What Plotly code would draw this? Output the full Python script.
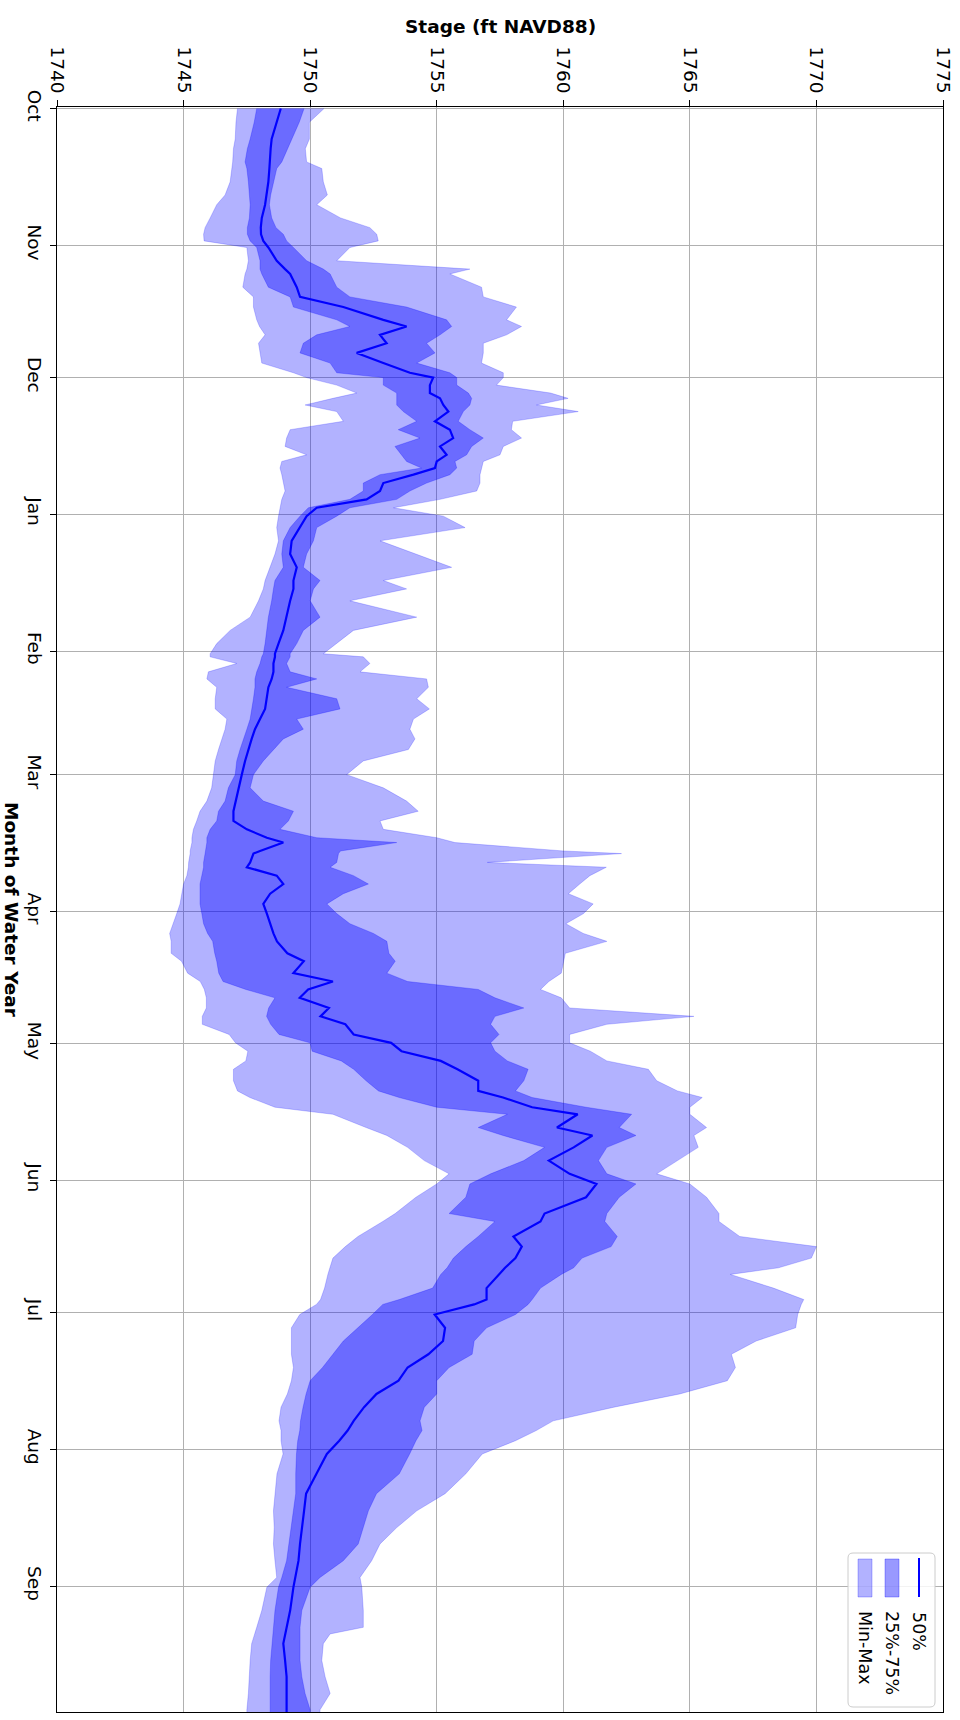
import plotly.graph_objects as go

# ---------------- data ----------------
days = [0.0, 3.1, 6.9, 9.1, 12.1, 13.6, 16.6, 19.6, 21.8, 24.8, 27.0, 28.5, 30.0, 31.5, 34.5,
        36.4, 37.5, 40.5, 42.7, 45.0, 47.9, 49.4, 51.3, 53.2, 55.4, 57.7, 59.9, 61.0, 62.7,
        64.5, 65.7, 67.2, 68.7, 70.9, 72.8, 74.7, 76.6, 78.5, 80.0, 81.5, 83.0, 84.9, 86.7,
        88.6, 90.5, 92.4, 95.0, 98.0, 101.0, 104.0, 107.0, 108.9, 111.6, 115.3, 118.3, 121.3,
        123.6, 124.3, 125.8, 127.7, 129.3, 131.2, 133.8, 136.1, 138.4, 140.7, 142.9, 145.3,
        147.9, 151.0, 154.0, 157.0, 159.3, 161.5, 163.4, 165.3, 166.4, 168.3, 168.9, 170.9, 172.0,
        173.9, 175.8, 178.0, 180.3, 182.5, 184.8, 187.0, 188.8, 191.5, 193.3, 196.0, 197.9,
        199.7, 201.6, 203.9, 205.8, 207.6, 209.9, 211.8, 213.7, 215.9, 217.8, 220.4, 222.7,
        224.2, 226.4, 228.0, 231.0, 232.8, 235.5, 238.5, 241.5, 243.8, 246.8, 250.5, 252.3,
        255.7, 258.0, 260.6, 262.8, 264.3, 267.4, 270.0, 271.1, 273.4, 276.4, 279.4, 282.4,
        285.4, 288.4, 291.4, 294.4, 297.5, 299.7, 302.0, 305.0, 309.5, 314.0, 317.9, 321.7,
        325.4, 329.2, 333.0, 335.2, 340.5, 344.3, 345.8, 348.0, 351.8, 355.5, 359.3, 363.0, 364.0]

stage_min = [1747.13, 1747.07, 1747.04, 1746.97, 1746.94, 1746.90, 1746.84, 1746.64, 1746.31, 1746.05,
             1745.85, 1745.79, 1745.81, 1747.50, 1747.56, 1747.50, 1747.43, 1747.34, 1747.76, 1747.76,
             1747.89, 1748.00, 1748.22, 1747.96, 1748.02, 1748.09, 1749.34, 1749.86, 1751.05, 1751.84,
             1750.90, 1749.80, 1751.05, 1751.31, 1749.21, 1749.07, 1749.01, 1749.86, 1748.88, 1748.81,
             1748.88, 1748.94, 1749.01, 1748.88, 1748.81, 1748.75, 1748.68, 1748.75, 1748.61, 1748.42,
             1748.22, 1748.15, 1747.96, 1747.63, 1746.84, 1746.31, 1746.05, 1746.05, 1747.10, 1745.98,
             1745.92, 1746.31, 1746.25, 1746.25, 1746.71, 1746.64, 1746.51, 1746.38, 1746.25, 1746.18,
             1746.11, 1745.92, 1745.65, 1745.52, 1745.39, 1745.33, 1745.33, 1745.26, 1745.26, 1745.20,
             1745.19,
             1745.13, 1745.00, 1744.93, 1744.86, 1744.73, 1744.60, 1744.45, 1744.51, 1744.51, 1744.92,
             1745.16, 1745.66, 1745.82, 1745.90, 1745.90, 1745.74, 1745.74, 1746.80, 1747.05, 1747.54,
             1747.46, 1746.97, 1746.97, 1747.13, 1747.62, 1748.61, 1750.90, 1752.21, 1753.03, 1753.85,
             1754.51, 1755.49, 1755.00, 1754.18, 1753.36, 1752.87, 1751.89, 1751.39, 1750.90, 1750.78,
             1750.70, 1750.57, 1750.41, 1750.25, 1749.59, 1749.26, 1749.26, 1749.26, 1749.34, 1749.26,
             1749.10, 1748.85, 1748.77, 1748.85, 1748.85, 1748.93, 1748.69, 1748.61, 1748.55, 1748.58,
             1748.55, 1748.61, 1748.68, 1748.29, 1748.09, 1747.89, 1747.82, 1747.69, 1747.63, 1747.60,
             1747.56, 1747.50, 1747.50]

stage_p25 = [1747.89, 1747.79, 1747.63, 1747.52, 1747.43, 1747.50, 1747.56, 1747.60, 1747.63, 1747.60,
             1747.52, 1747.52, 1747.63, 1747.89, 1748.02, 1748.02, 1748.09, 1748.35, 1749.21, 1749.34,
             1751.05, 1751.57, 1750.26, 1749.73, 1749.60, 1750.79, 1751.05, 1752.89, 1752.89, 1753.42,
             1753.42, 1753.42, 1753.68, 1754.21, 1753.48, 1754.34, 1753.35, 1753.61, 1753.81, 1754.40,
             1752.76, 1752.10, 1752.10, 1751.57, 1749.93, 1749.60, 1749.21, 1748.94, 1748.88, 1748.94,
             1748.61, 1748.55, 1748.48, 1748.35, 1748.29, 1748.22, 1748.15, 1748.09, 1748.02, 1747.89,
             1747.82, 1747.82, 1747.76, 1747.69, 1747.63, 1747.50, 1747.36, 1747.23, 1747.10, 1747.04,
             1746.77, 1746.64, 1746.38, 1746.31, 1746.05, 1745.92, 1745.92, 1745.85, 1745.85, 1745.79,
             1745.79,
             1745.72, 1745.65, 1745.65, 1745.65, 1745.72, 1745.79, 1745.95, 1746.15, 1746.23, 1746.31,
             1746.39, 1746.56, 1747.46, 1748.61, 1748.36, 1748.28, 1748.44, 1748.77, 1750.00, 1750.08,
             1751.23, 1751.72, 1752.21, 1752.70, 1753.52, 1755.00, 1757.79, 1756.64, 1757.62, 1759.26,
             1758.44, 1757.13, 1756.31, 1756.15, 1755.49, 1757.30, 1756.64, 1756.15, 1755.66, 1755.41,
             1755.16, 1754.84, 1753.52, 1752.87, 1752.46, 1751.89, 1751.31, 1750.90, 1750.49, 1750.00,
             1749.84, 1749.72, 1749.62, 1749.59, 1749.51, 1749.46, 1749.43, 1749.43, 1749.34, 1749.27,
             1749.18, 1749.07, 1748.88, 1748.75, 1748.61, 1748.55, 1748.52, 1748.48, 1748.44, 1748.42,
             1748.42, 1748.42, 1748.42]

stage_p50 = [1748.84, 1748.68, 1748.48, 1748.44, 1748.42, 1748.39, 1748.35, 1748.29, 1748.22, 1748.09,
             1748.05, 1748.06, 1748.15, 1748.35, 1748.68, 1749.01, 1749.21, 1749.47, 1749.60, 1751.31,
             1752.89, 1753.81, 1752.76, 1753.02, 1751.84, 1752.89, 1753.94, 1754.86, 1754.73, 1754.73,
             1755.13, 1755.26, 1755.46, 1754.93, 1755.52, 1755.65, 1755.13, 1755.39, 1755.00, 1754.93,
             1754.08, 1752.89, 1752.76, 1752.23, 1750.26, 1749.86, 1749.60, 1749.27, 1749.21, 1749.47,
             1749.34, 1749.34, 1749.21, 1749.07, 1748.94, 1748.75, 1748.61, 1748.61, 1748.55, 1748.55,
             1748.48, 1748.35, 1748.29, 1748.22, 1748.02, 1747.82, 1747.69, 1747.56, 1747.43, 1747.30,
             1747.17, 1747.04, 1746.97, 1746.97, 1747.50, 1748.29, 1748.94, 1748.02, 1747.76, 1747.63,
             1747.50,
             1748.68, 1748.94, 1748.42, 1748.15, 1748.29, 1748.42, 1748.55, 1748.69, 1749.10, 1749.75,
             1749.34, 1750.90, 1749.92, 1749.59, 1750.74, 1750.41, 1751.39, 1751.72, 1753.20, 1753.61,
             1755.16, 1755.82, 1756.64, 1756.64, 1757.62, 1758.77, 1760.57, 1759.75, 1761.15, 1760.41,
             1759.43, 1760.25, 1761.31, 1760.90, 1759.26, 1759.10, 1758.03, 1758.36, 1758.11, 1757.70,
             1757.46, 1756.97, 1756.97, 1756.48, 1754.92, 1755.33, 1755.25, 1754.67, 1753.85, 1753.49,
             1752.62, 1752.13, 1751.72, 1751.48, 1751.15, 1750.66, 1750.25, 1749.84, 1749.76, 1749.67,
             1749.60, 1749.54, 1749.41, 1749.34, 1749.21, 1749.07, 1749.01, 1748.94, 1749.01, 1749.07,
             1749.07, 1749.07, 1749.07]

stage_p75 = [1749.76, 1749.57, 1749.27, 1749.10, 1748.88, 1748.68, 1748.55, 1748.44, 1748.39, 1748.48,
             1748.65, 1748.94, 1749.07, 1749.34, 1749.86, 1750.52, 1750.79, 1751.05, 1751.57, 1753.81,
             1755.39, 1755.59, 1755.13, 1754.60, 1754.93, 1754.21, 1755.52, 1755.79, 1755.79, 1756.25,
             1756.38, 1756.31, 1756.05, 1755.85, 1756.31, 1756.84, 1756.38, 1756.18, 1755.72, 1755.79,
             1755.52, 1754.60, 1753.94, 1753.42, 1751.57, 1751.05, 1750.26, 1750.13, 1749.86, 1749.73,
             1750.39, 1750.13, 1750.00, 1750.39, 1749.73, 1749.47, 1749.21, 1749.21, 1749.07, 1749.21,
             1750.26, 1749.07, 1751.05, 1751.18, 1749.47, 1749.73, 1748.94, 1748.55, 1748.15, 1747.76,
             1747.63, 1748.15, 1749.34, 1749.14, 1748.81, 1750.26, 1753.42, 1751.20, 1751.12, 1751.05,
             1750.79,
             1751.71, 1752.30, 1751.31, 1750.66, 1751.05, 1751.57, 1752.50, 1753.03, 1753.11, 1753.36,
             1753.03, 1753.85, 1756.64, 1757.30, 1758.44, 1757.30, 1757.13, 1757.46, 1757.13, 1757.30,
             1757.79, 1758.61, 1758.44, 1758.11, 1758.77, 1760.90, 1762.70, 1762.21, 1762.87, 1761.72,
             1761.39, 1761.72, 1762.87, 1762.21, 1761.72, 1761.64, 1762.13, 1761.89, 1760.74, 1760.41,
             1759.92, 1759.10, 1758.77, 1758.61, 1758.11, 1756.97, 1756.48, 1756.40, 1755.49, 1755.00,
             1755.00, 1754.51, 1754.34, 1754.42, 1754.18, 1753.93, 1753.52, 1752.62, 1752.30, 1752.10,
             1751.90, 1751.31, 1750.39, 1750.00, 1749.67, 1749.60, 1749.60, 1749.60, 1749.60, 1749.67,
             1749.80, 1750.00, 1750.00]

stage_max = [1750.55, 1749.97, 1749.97, 1749.81, 1749.86, 1750.46, 1750.52, 1750.68, 1750.26, 1751.20,
             1752.36, 1752.63, 1752.69, 1751.57, 1751.05, 1756.31, 1755.52, 1756.77, 1756.84, 1758.15,
             1757.76, 1758.35, 1757.76, 1756.84, 1756.84, 1756.77, 1757.63, 1757.63, 1757.36, 1759.50,
             1760.19, 1758.94, 1760.59, 1758.00, 1757.95, 1758.35, 1757.63, 1757.50, 1756.84, 1756.77,
             1756.71, 1756.71, 1756.58, 1755.13, 1753.29, 1755.26, 1756.12, 1752.76, 1754.21, 1755.59,
             1752.89, 1753.81, 1751.57, 1754.21, 1751.71, 1751.05, 1750.52, 1752.10, 1752.36, 1751.97,
             1754.60, 1754.67, 1754.21, 1754.71, 1754.08, 1753.94, 1754.14, 1753.88, 1752.10, 1751.44,
             1752.89, 1753.81, 1754.27, 1752.76, 1752.89, 1755.00, 1755.72, 1760.00, 1762.30, 1757.00,
             1761.70,
             1761.05, 1760.65, 1760.20, 1761.18, 1760.80, 1760.10, 1760.79, 1761.72, 1760.08, 1760.00,
             1759.92, 1759.43, 1759.10, 1759.92, 1760.25, 1765.16, 1761.72, 1760.25, 1760.25, 1761.07,
             1761.72, 1763.36, 1763.69, 1764.51, 1765.49, 1765.00, 1765.00, 1765.66, 1765.16, 1765.33,
             1764.51, 1763.69, 1765.00, 1765.66, 1766.15, 1766.15, 1766.97, 1770.00, 1769.80, 1768.50,
             1766.60, 1768.30, 1769.50, 1769.40, 1769.26, 1769.18, 1767.62, 1766.64, 1766.80, 1766.48,
             1764.60, 1762.00, 1759.60, 1758.93, 1758.11, 1756.80, 1756.15, 1755.33, 1754.21, 1753.42,
             1752.76, 1752.43, 1751.97, 1752.04, 1752.10, 1752.10, 1750.79, 1750.52, 1750.46, 1750.59,
             1750.79, 1750.39, 1750.39]

month_labels = ["Oct", "Nov", "Dec", "Jan", "Feb", "Mar", "Apr", "May", "Jun", "Jul", "Aug", "Sep"]
month_start_days = [0, 31, 61, 92, 123, 151, 182, 212, 243, 273, 304, 335]
stage_ticks = [1740, 1745, 1750, 1755, 1760, 1765, 1770, 1775]
legend_labels = ["50%", "25%-75%", "Min-Max"]

# ---------------- figure geometry ----------------
W, H = 960, 1720
L, R, T, B = 57, 17, 107, 8
PW, PH = W - L - R, H - T - B


def px(xp):
    return (xp - L) / PW


def py(yp):
    return (H - B - yp) / PH


FONT = "DejaVu Sans"
C_MINMAX = "rgba(0,0,255,0.3)"
C_IQR = "rgba(0,0,255,0.4)"
C_MED = "#0000ff"

fig = go.Figure()
fig.add_trace(go.Scatter(
    x=stage_min + stage_max[::-1], y=days + days[::-1],
    fill="toself", fillcolor=C_MINMAX, mode="lines",
    line=dict(color="rgba(0,0,255,0.25)", width=0.8),
    hoverinfo="skip", showlegend=False))
fig.add_trace(go.Scatter(
    x=stage_p25 + stage_p75[::-1], y=days + days[::-1],
    fill="toself", fillcolor=C_IQR, mode="lines",
    line=dict(color="rgba(0,0,255,0.3)", width=0.8),
    hoverinfo="skip", showlegend=False))
fig.add_trace(go.Scatter(
    x=stage_p50, y=days, mode="lines",
    line=dict(color=C_MED, width=2.2), showlegend=False))

axis_common = dict(
    showgrid=True, gridcolor="#b0b0b0", gridwidth=1,
    showline=True, linecolor="black", linewidth=1, mirror=True,
    ticks="outside", ticklen=6, tickcolor="black", tickwidth=1,
    zeroline=False, automargin=False,
    tickfont=dict(family=FONT, size=18.5, color="black"),
    tickangle=90,
)

fig.update_layout(
    width=W, height=H,
    margin=dict(l=L, r=R, t=T, b=B),
    plot_bgcolor="white", paper_bgcolor="white",
    showlegend=False,
    xaxis=dict(range=[1740, 1775], side="top", tickvals=stage_ticks,
               ticktext=[str(v) for v in stage_ticks], **axis_common),
    yaxis=dict(range=[363.5, -0.35], tickvals=month_start_days,
               ticktext=month_labels, **axis_common),
)

# axis titles (rotated as in the reference)
fig.add_annotation(text="<b>Stage (ft NAVD88)</b>", xref="paper", yref="paper",
                   x=px(500), y=py(26), showarrow=False, xanchor="center", yanchor="middle",
                   font=dict(family=FONT, size=18.5, color="black"))
fig.add_annotation(text="<b>Month of Water Year</b>", xref="paper", yref="paper",
                   x=px(12), y=py(910), showarrow=False, xanchor="center", yanchor="middle",
                   textangle=90, font=dict(family=FONT, size=18.5, color="black"))

# legend (rotated) drawn by hand
bx0, bx1, by0, by1, r = 848, 935, 1553, 1707, 5
path = (f"M {px(bx0 + r)},{py(by0)} L {px(bx1 - r)},{py(by0)} "
        f"Q {px(bx1)},{py(by0)} {px(bx1)},{py(by0 + r)} "
        f"L {px(bx1)},{py(by1 - r)} Q {px(bx1)},{py(by1)} {px(bx1 - r)},{py(by1)} "
        f"L {px(bx0 + r)},{py(by1)} Q {px(bx0)},{py(by1)} {px(bx0)},{py(by1 - r)} "
        f"L {px(bx0)},{py(by0 + r)} Q {px(bx0)},{py(by0)} {px(bx0 + r)},{py(by0)} Z")
fig.add_shape(type="path", path=path, xref="paper", yref="paper",
              fillcolor="rgba(255,255,255,0.85)", line=dict(color="#cccccc", width=1), layer="above")
fig.add_shape(type="line", xref="paper", yref="paper", x0=px(919), x1=px(919), y0=py(1558), y1=py(1597),
              line=dict(color=C_MED, width=2), layer="above")
fig.add_shape(type="rect", xref="paper", yref="paper", x0=px(885), x1=px(899), y0=py(1559), y1=py(1597),
              fillcolor=C_IQR, line=dict(color="rgba(0,0,255,0.3)", width=1), layer="above")
fig.add_shape(type="rect", xref="paper", yref="paper", x0=px(858), x1=px(872), y0=py(1559), y1=py(1597),
              fillcolor=C_MINMAX, line=dict(color="rgba(0,0,255,0.25)", width=1), layer="above")
legend_x = [919, 892, 865]
legend_cy = [1631, 1653, 1648]
for lab, lx, ly in zip(legend_labels, legend_x, legend_cy):
    fig.add_annotation(text=lab, xref="paper", yref="paper", x=px(lx), y=py(ly),
                       showarrow=False, xanchor="center", yanchor="middle", textangle=90,
                       font=dict(family=FONT, size=17.5, color="black"))

fig.write_html("out.html", config={"displayModeBar": False},
               post_script="document.body.style.margin='0px';document.body.style.padding='0px';")
